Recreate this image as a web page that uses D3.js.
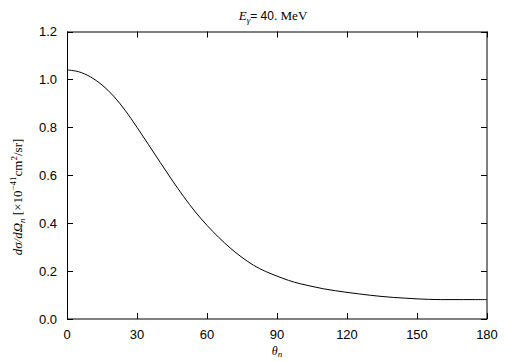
<!DOCTYPE html>
<html><head><meta charset="utf-8">
<script src="https://cdn.jsdelivr.net/npm/d3@7"></script>
<style>html,body{margin:0;padding:0;background:#fff;}svg{display:block;}</style>
</head><body>
<svg id="c" width="505" height="361"></svg>
<script>
const theta = [0,5,10,15,20,25,30,35,40,45,50,55,60,65,70,75,80,85,90,95,100,105,110,115,120,125,130,135,140,145,150,155,160,165,170,175,180];
const sigma = [1.040,1.032,1.011,0.977,0.930,0.870,0.800,0.727,0.653,0.580,0.511,0.447,0.391,0.341,0.296,0.257,0.224,0.199,0.179,0.161,0.147,0.136,0.126,0.118,0.111,0.105,0.099,0.094,0.090,0.087,0.084,0.082,0.081,0.081,0.081,0.081,0.081];
const xTicks = [0,30,60,90,120,150,180];
const yTicks = [0.0,0.2,0.4,0.6,0.8,1.0,1.2];

const svg = d3.select("#c");
const L=67, R=487, T=31.5, B=319;
const x = d3.scaleLinear().domain([0,180]).range([L,R]);
const y = d3.scaleLinear().domain([0,1.2]).range([B,T]);
const sans = "'Liberation Sans', Arial, Helvetica, sans-serif";
const serif = "'Liberation Serif', 'Times New Roman', serif";
const tl = 6;

// frame
svg.append("rect").attr("x",L+0.5).attr("y",T+0.5).attr("width",R-L-0.5).attr("height",B-T-0.5)
  .attr("fill","none").attr("stroke","#000").attr("stroke-width",1);

// ticks (inward, mirrored)
const g = svg.append("g").attr("stroke","#000").attr("stroke-width",1);
xTicks.forEach(t=>{
  const px = Math.round(x(t))+0.5;
  g.append("line").attr("x1",px).attr("x2",px).attr("y1",B).attr("y2",B-tl);
  g.append("line").attr("x1",px).attr("x2",px).attr("y1",T).attr("y2",T+tl);
});
yTicks.forEach(t=>{
  const py = Math.round(y(t))+0.5;
  g.append("line").attr("x1",L).attr("x2",L+tl).attr("y1",py).attr("y2",py);
  g.append("line").attr("x1",R).attr("x2",R-tl).attr("y1",py).attr("y2",py);
});

// tick labels
svg.append("g").selectAll("text").data(xTicks).join("text")
  .attr("x",d=>x(d)).attr("y",339).attr("text-anchor","middle")
  .attr("font-family",sans).attr("font-size",13).text(d=>d);
svg.append("g").selectAll("text").data(yTicks).join("text")
  .attr("x",57).attr("y",d=>y(d)+4.5).attr("text-anchor","end")
  .attr("font-family",sans).attr("font-size",13).text(d=>d.toFixed(1));

// curve
const pts = theta.map((t,i)=>[t,sigma[i]]);
svg.append("path").datum(pts)
  .attr("d", d3.line().x(d=>x(d[0])).y(d=>y(d[1])).curve(d3.curveCatmullRom.alpha(0.5)))
  .attr("fill","none").attr("stroke","#000").attr("stroke-width",1);

// title
const ti = svg.append("text").attr("x",273).attr("y",20).attr("text-anchor","middle")
  .attr("font-family",serif).attr("font-size",13);
ti.append("tspan").attr("font-style","italic").text("E");
ti.append("tspan").attr("font-style","italic").attr("font-size",9).attr("dy",3).text("γ");
ti.append("tspan").attr("dy",-3).attr("font-family",sans).attr("font-size",12).text("= 40. ");
ti.append("tspan").text("MeV");

// x label
const xl = svg.append("text").attr("x",277).attr("y",355).attr("text-anchor","middle")
  .attr("font-family",serif).attr("font-size",12);
xl.append("tspan").attr("font-style","italic").text("θ");
xl.append("tspan").attr("font-style","italic").attr("font-size",9).attr("dy",2).text("n");

// y label
const yl = svg.append("text").attr("transform","translate(22,197) rotate(-90)")
  .attr("text-anchor","middle").attr("font-family",serif).attr("font-size",13);
yl.append("tspan").attr("font-style","italic").text("dσ/dΩ");
yl.append("tspan").attr("font-style","italic").attr("font-size",9).attr("dy",3).text("n");
yl.append("tspan").attr("dy",-3).text(" [×10");
yl.append("tspan").attr("font-size",9).attr("dy",-6).text("−41");
yl.append("tspan").attr("dy",6).text("cm");
yl.append("tspan").attr("font-size",9).attr("dy",-5).text("2");
yl.append("tspan").attr("dy",5).text("/sr]");
</script>
</body></html>
